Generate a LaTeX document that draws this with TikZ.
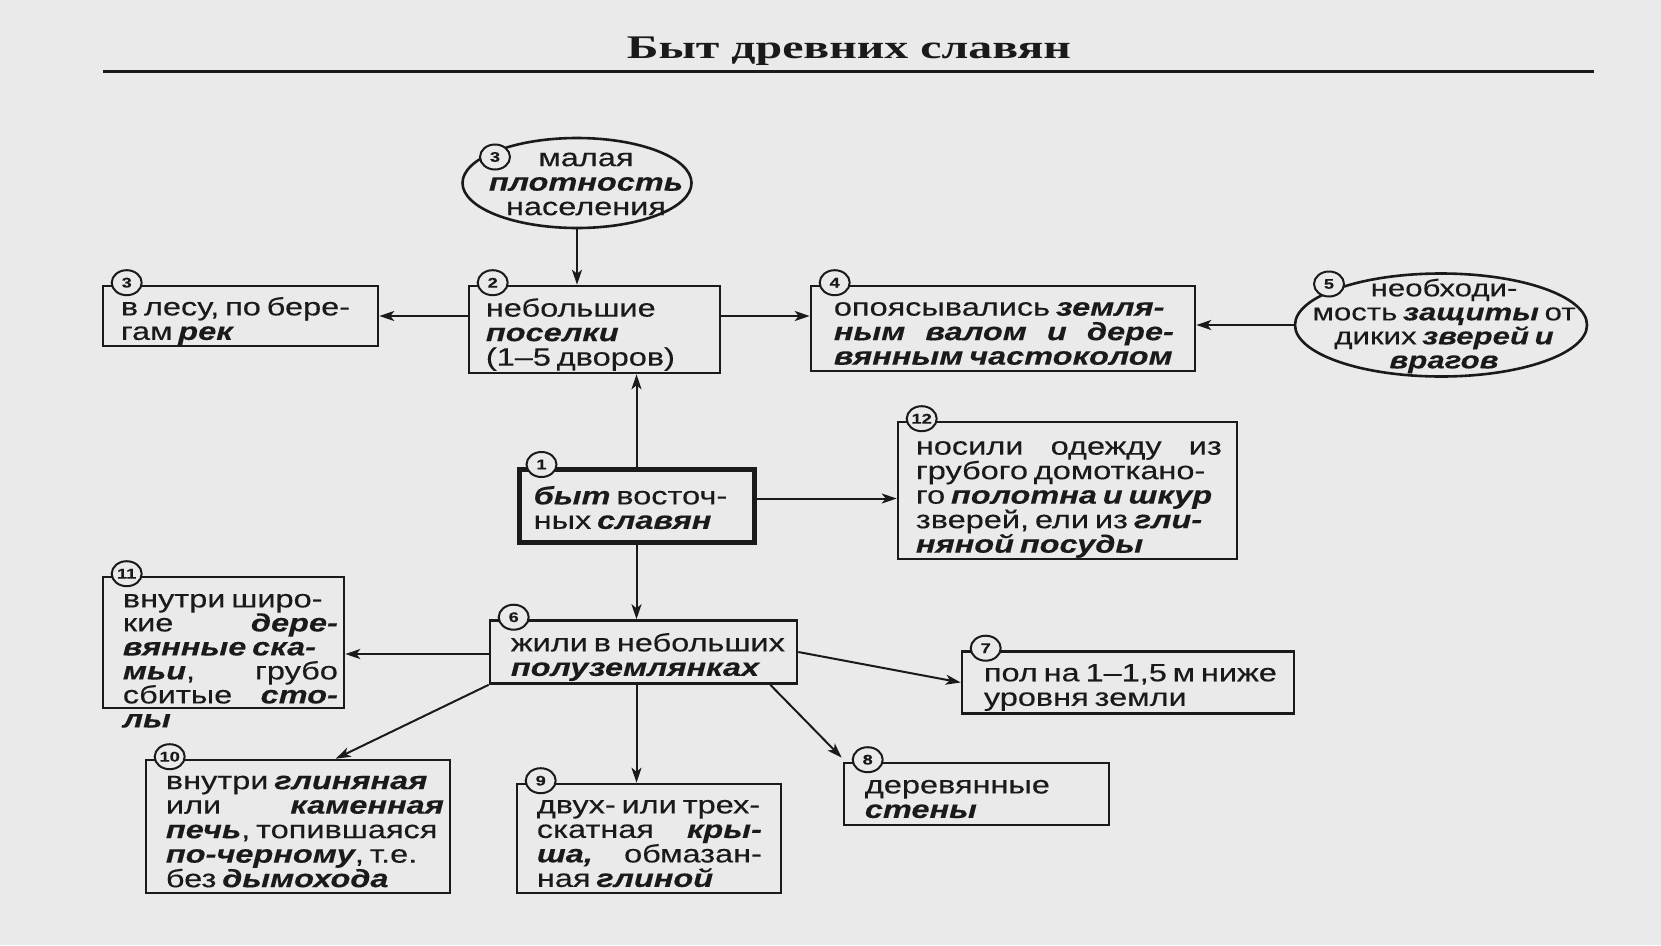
\documentclass[tikz,border=0pt]{standalone}
\usepackage{fontspec}
\setmainfont{Liberation Serif}
\setsansfont{Liberation Sans}[FakeStretch=1.3, FakeBold=0.3, WordSpace=0.65]
\newfontfamily\titlefont{Liberation Serif}[FakeStretch=1.45]
\usetikzlibrary{shapes.geometric,arrows.meta,calc}
\definecolor{ink}{HTML}{1A1A1A}
\definecolor{paper}{HTML}{EAEAEA}
\newcommand{\kw}[1]{{\bfseries\itshape #1}}
\newcommand{\jl}[2]{\makebox[#1pt][s]{#2}}
\tikzset{
  box/.style={draw=ink, line width=2.6pt, rectangle, inner sep=0pt},
  thickbox/.style={box, line width=5pt},
  oval/.style={ellipse, draw=ink, line width=2.6pt, inner sep=0pt},
  txt/.style={font=\sffamily\fontsize{25}{24.5}\selectfont, align=left, inner sep=0pt, text=ink, anchor=west},
  ctxt/.style={txt, align=center, anchor=center},
  num/.style={ellipse, draw=ink, fill=paper, line width=2pt, minimum width=30pt, minimum height=25pt, inner sep=0pt, text=ink, font=\sffamily\bfseries\fontsize{14}{14}\selectfont},
  arr/.style={draw=ink, line width=2pt, -{Stealth[length=15pt,width=10pt,inset=4pt]}},
}
\begin{document}
\begin{tikzpicture}[x=1pt,y=-1pt]
\fill[paper] (0,0) rectangle (1661,945);
\useasboundingbox (0,0) rectangle (1661,945);
% title
\node[font=\titlefont\bfseries\fontsize{33}{33}\selectfont, text=ink, inner sep=0pt, anchor=base] (title) at (849,58) {Быт древних славян};
\coordinate (rl) at (103,71);
\coordinate (rr) at (1594,71);
\draw[ink, line width=3pt] (rl) -- (rr);
% ellipses
\node[oval, minimum width=229pt, minimum height=90pt] (e3) at (577,183) {};
\node[ctxt] (te3) at (586,184) {малая\\\kw{плотность}\\населения};
\node[oval, minimum width=292pt, minimum height=103pt] (e5) at (1441,325) {};
\node[ctxt, font=\sffamily\fontsize{24}{24}\selectfont] (te5) at (1444,326) {необходи-\\мость \kw{защиты} от\\диких \kw{зверей и}\\\kw{врагов}};
% boxes
\node[box, minimum width=275pt, minimum height=60pt] (b3) at (240.5,316) {};
\node[txt] (t3) at ($(b3.west)+(19,5)$) {в лесу, по бере-\\гам \kw{рек}};
\node[box, minimum width=251pt, minimum height=87pt] (b2) at (594.5,329.5) {};
\node[txt] (t2) at ($(b2.west)+(18,5)$) {небольшие\\\kw{поселки}\\(1–5 дворов)};
\node[box, minimum width=384pt, minimum height=85pt] (b4) at (1003,328.5) {};
\node[txt] (t4) at ($(b4.west)+(24,5)$) {опоясывались \kw{земля-}\\\jl{340}{\kw{ным\hfill валом\hfill и\hfill дере-}}\\\kw{вянным частоколом}};
\node[box, minimum width=339pt, minimum height=137pt] (b12) at (1067.5,490.5) {};
\node[txt] (t12) at ($(b12.west)+(19,9)$) {\jl{306}{носили\hfill одежду\hfill из}\\грубого домоткано-\\го \kw{полотна и шкур}\\зверей, ели из \kw{гли-}\\\kw{няной посуды}};
\node[thickbox, minimum width=235pt, minimum height=73pt] (b1) at (636.5,505.5) {};
\node[txt] (t1) at ($(b1.west)+(17,2)$) {\kw{быт} восточ-\\ных \kw{славян}};
\node[box, minimum width=241pt, minimum height=131pt] (b11) at (223.5,642.5) {};
\node[txt, anchor=north west, font=\sffamily\fontsize{25}{24}\selectfont] (t11) at ($(b11.north west)+(21,18)$) {внутри широ-\\\jl{215}{кие\hfill \kw{дере-}}\\\kw{вянные ска-}\\\jl{215}{\kw{мьи},\hfill грубо}\\\jl{215}{сбитые\hfill \kw{сто-}}\\\kw{лы}};
\node[box, minimum width=307pt, minimum height=63pt] (b6) at (643.5,652) {};
\node[txt] (t6) at ($(b6.west)+(22,5)$) {жили в небольших\\\kw{полуземлянках}};
\node[box, minimum width=332pt, minimum height=62pt] (b7) at (1128,682.5) {};
\node[txt] (t7) at ($(b7.west)+(23,5)$) {пол на 1–1,5 м ниже\\уровня земли};
\node[box, minimum width=304pt, minimum height=133pt] (b10) at (298,826.5) {};
\node[txt] (t10) at ($(b10.west)+(21,5)$) {внутри \kw{глиняная}\\\jl{278}{или\hfill \kw{каменная}}\\\kw{печь}, топившаяся\\\kw{по-черному}, т.е.\\без \kw{дымохода}};
\node[box, minimum width=264pt, minimum height=109pt] (b9) at (649,838.5) {};
\node[txt] (t9) at ($(b9.west)+(21,5)$) {двух- или трех-\\\jl{225}{скатная\hfill \kw{кры-}}\\\jl{225}{\kw{ша,}\hfill обмазан-}\\ная \kw{глиной}};
\node[box, minimum width=265pt, minimum height=62pt] (b8) at (976.5,794) {};
\node[txt] (t8) at ($(b8.west)+(22,5)$) {деревянные\\\kw{стены}};
% number circles
\node[num] (n3e) at (495,157) {3};
\node[num] (n5) at (1329,284) {5};
\node[num] at ($(b3.north west)+(25,-2)$) (n3) {3};
\node[num] at ($(b2.north west)+(25,-2)$) (n2) {2};
\node[num] at ($(b4.north west)+(25,-2)$) (n4) {4};
\node[num] at ($(b12.north west)+(25,-2)$) (n12) {12};
\node[num] at ($(b1.north west)+(25,-2)$) (n1) {1};
\node[num] at ($(b11.north west)+(25,-2)$) (n11) {11};
\node[num] at ($(b6.north west)+(25,-2)$) (n6) {6};
\node[num] at ($(b7.north west)+(25,-2)$) (n7) {7};
\node[num] at ($(b10.north west)+(25,-2)$) (n10) {10};
\node[num] at ($(b9.north west)+(25,-2)$) (n9) {9};
\node[num] at ($(b8.north west)+(25,-2)$) (n8) {8};
% connector helper points
\coordinate (a1) at ($(b1.east)+(0,-7)$);
\coordinate (a6) at ($(b6.west)+(0,2)$);
\coordinate (a10) at ($(b10.north west)+(191,0)$);
\coordinate (a6r) at ($(b6.south east)+(-28,0)$);
\coordinate (a8) at ($(b8.north west)+(-1,-4)$);
% connectors
\draw[arr] (e3.south) -- (e3.south |- b2.north);
\draw[arr] (b2.west |- b3.center) -- (b3.east);
\draw[arr] (b2.east |- b3.center) -- (b4.west |- b3.center);
\draw[arr] (e5.west) -- (b4.east |- e5.west);
\draw[arr] (b1.north) -- (b1.north |- b2.south);
\draw[arr] (a1) -- (a1 -| b12.west);
\draw[arr] (b1.south) -- (b1.south |- b6.north);
\draw[arr] (a6) -- (a6 -| b11.east);
\draw[arr] (b6.east) -- (b7.west);
\draw[arr] (b6.south west) -- (a10);
\draw[arr] (b1.south |- b6.south) -- (b1.south |- b9.north);
\draw[arr] (a6r) -- (a8);
\end{tikzpicture}
\end{document}
